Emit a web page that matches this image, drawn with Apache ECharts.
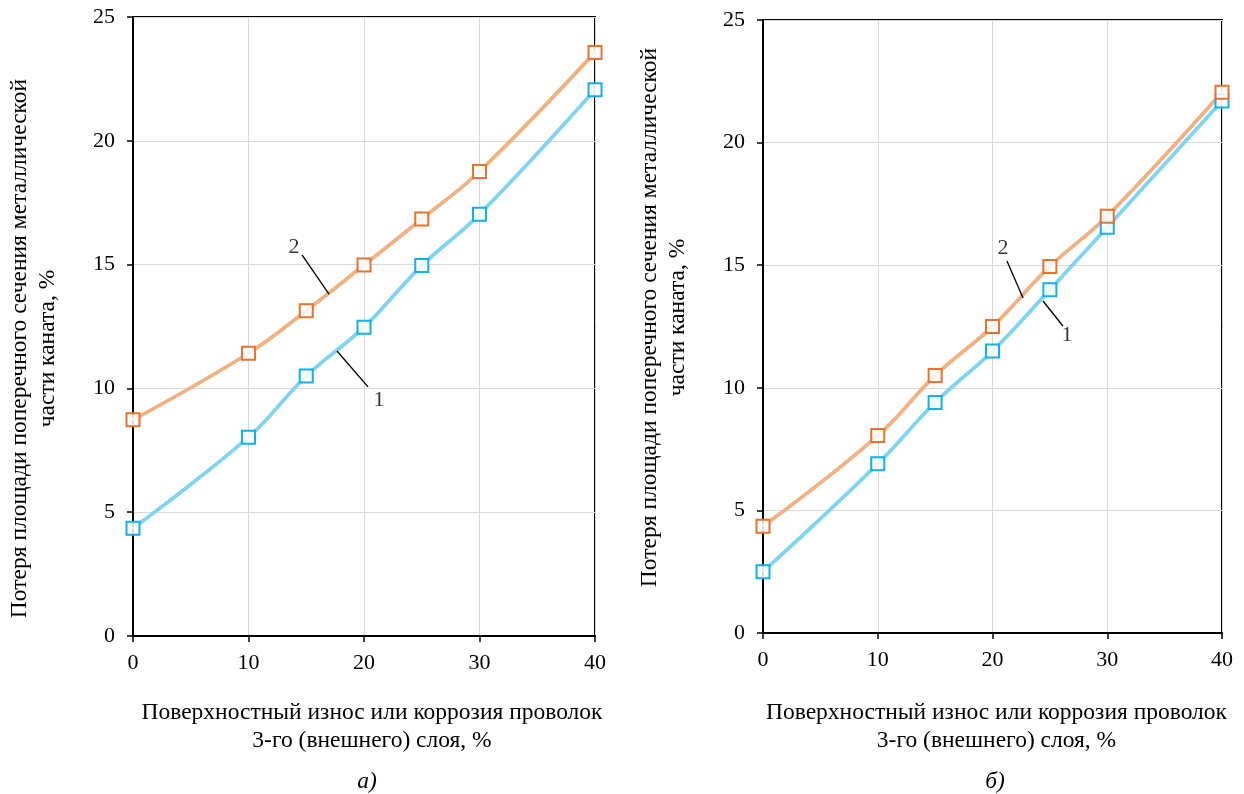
<!DOCTYPE html>
<html>
<head>
<meta charset="utf-8">
<script src="https://cdn.jsdelivr.net/npm/echarts@6/dist/echarts.min.js"></script>
<style>
html,body{margin:0;padding:0;background:#fff;}
#c{width:1244px;height:794px;}
</style>
</head>
<body>
<div id="c"></div>
<script>
// ---- data ----
const xValues = [0, 10, 15, 20, 25, 30, 40];
const leftCurve1 = [4.35, 8.03, 10.5, 12.47, 14.96, 17.03, 22.06];
const leftCurve2 = [8.73, 11.42, 13.14, 14.98, 16.84, 18.76, 23.57];
const rightCurve1 = [2.5, 6.9, 9.4, 11.5, 14.0, 16.55, 21.7];
const rightCurve2 = [4.35, 8.05, 10.5, 12.5, 14.95, 17.0, 22.05];
const xTicks = [0, 10, 20, 30, 40];
const yTicks = [0, 5, 10, 15, 20, 25];
const yTitle = 'Потеря площади поперечного сечения металлической\nчасти каната, %';
const xTitle = 'Поверхностный износ или коррозия проволок\n3-го (внешнего) слоя, %';
const captions = ['а)', 'б)'];
// annotation leader lines (data coords) and label anchors
const leftLeader2 = [[14.63, 15.39], [16.97, 13.81]];
const leftLeader1 = [[17.66, 11.51], [20.35, 10.06]];
const leftLabels = [[13.94, 15.71, '2'], [21.3, 9.53, '1']];
const rightLeader2 = [[21.26, 15.17], [22.66, 13.66]];
const rightLeader1 = [[24.40, 13.54], [26.14, 12.52]];
const rightLabels = [[20.92, 15.70, '2'], [26.49, 12.15, '1']];

const FONT = 'Liberation Serif';
const TICK_SIZE = 22;
const TITLE_SIZE = 23.5;
const BLUE_LINE = '#7FD4F4';
const BLUE_MARK = '#12B0EC';
const ORANGE_LINE = '#F3B182';
const ORANGE_MARK = '#E8722E';

function pair(xs, ys) { return xs.map((x, i) => [x, ys[i]]); }

function xAxis(gi, padLeft, gap) {
  return {
    gridIndex: gi, type: 'value', min: xTicks[0], max: xTicks[xTicks.length - 1], interval: 10,
    axisLine: { show: true, lineStyle: { color: '#000', width: 2 } },
    axisTick: { show: true, inside: false, length: 6, lineStyle: { color: '#000', width: 1.5 } },
    axisLabel: { color: '#000', fontFamily: FONT, fontSize: TICK_SIZE, margin: 16 },
    splitLine: { show: true, lineStyle: { color: '#D9D9D9', width: 1 } },
    name: xTitle, nameLocation: 'middle', nameGap: gap,
    nameTextStyle: { color: '#000', fontFamily: FONT, fontSize: TITLE_SIZE, lineHeight: 28, padding: [0, 0, 0, padLeft] }
  };
}
function yAxis(gi, gap, pad) {
  return {
    gridIndex: gi, type: 'value', min: yTicks[0], max: yTicks[yTicks.length - 1], interval: 5,
    axisLine: { show: true, lineStyle: { color: '#000', width: 2 } },
    axisTick: { show: true, inside: false, length: 6, lineStyle: { color: '#000', width: 1.5 } },
    axisLabel: { color: '#000', fontFamily: FONT, fontSize: TICK_SIZE, margin: 18 },
    splitLine: { show: true, lineStyle: { color: '#D9D9D9', width: 1 } },
    name: yTitle, nameLocation: 'middle', nameGap: gap, nameRotate: 90,
    nameTextStyle: { color: '#000', fontFamily: FONT, fontSize: TITLE_SIZE, lineHeight: 28, padding: pad }
  };
}
function curve(gi, data, lineColor, markColor) {
  return {
    type: 'line', xAxisIndex: gi, yAxisIndex: gi, data: pair(xValues, data),
    smooth: 0.4, showAllSymbol: true, symbol: 'rect', symbolSize: 13,
    lineStyle: { color: lineColor, width: 3.8 },
    itemStyle: { color: 'rgba(255,255,255,0.85)', borderColor: markColor, borderWidth: 2 },
    z: 3
  };
}
function leader(gi, pts) {
  return {
    type: 'line', xAxisIndex: gi, yAxisIndex: gi, data: pts, symbol: 'none',
    lineStyle: { color: '#000', width: 1.3 }, z: 4
  };
}
function labels(gi, arr) {
  return {
    type: 'scatter', xAxisIndex: gi, yAxisIndex: gi, symbolSize: 1,
    itemStyle: { color: 'rgba(0,0,0,0)' },
    data: arr.map(a => ({ value: [a[0], a[1]], name: a[2] })),
    label: { show: true, position: 'inside', formatter: p => p.name, color: '#000', fontFamily: FONT, fontSize: 22 },
    z: 5
  };
}

const captionStyle = { fontFamily: FONT, fontSize: TITLE_SIZE, fontStyle: 'italic', fontWeight: 'normal', color: '#000' };
const chart = echarts.init(document.getElementById('c'), null, { renderer: 'canvas' });
chart.setOption({
  animation: false,
  backgroundColor: '#fff',
  title: [
    { text: captions[0], left: 362, top: 765, textAlign: 'center', textStyle: captionStyle },
    { text: captions[1], left: 990, top: 765, textAlign: 'center', textStyle: captionStyle }
  ],
  grid: [
    { left: 133, top: 17, width: 462, height: 619, show: true, borderColor: '#000', borderWidth: 2, backgroundColor: 'transparent' },
    { left: 763, top: 20, width: 459, height: 613, show: true, borderColor: '#000', borderWidth: 2, backgroundColor: 'transparent' }
  ],
  xAxis: [xAxis(0, 16, 63), xAxis(1, 8, 66)],
  yAxis: [yAxis(0, 71, [0, 44, 0, 0]), yAxis(1, 71, [0, 0, 0, 18])],
  series: [
    curve(0, leftCurve1, BLUE_LINE, BLUE_MARK),
    curve(0, leftCurve2, ORANGE_LINE, ORANGE_MARK),
    leader(0, leftLeader2), leader(0, leftLeader1), labels(0, leftLabels),
    curve(1, rightCurve1, BLUE_LINE, BLUE_MARK),
    curve(1, rightCurve2, ORANGE_LINE, ORANGE_MARK),
    leader(1, rightLeader2), leader(1, rightLeader1), labels(1, rightLabels)
  ]
});
</script>
</body>
</html>
